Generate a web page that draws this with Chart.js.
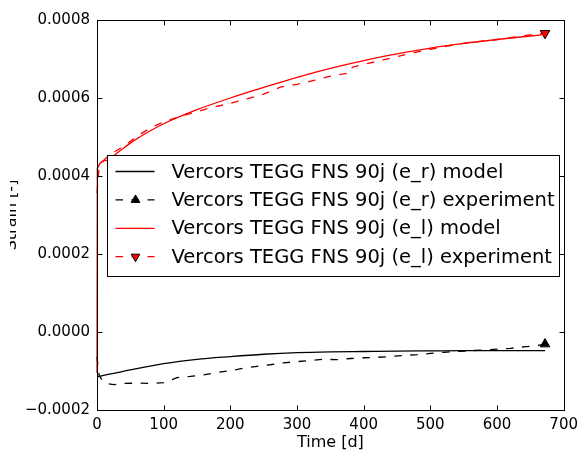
<!DOCTYPE html>
<html>
<head>
<meta charset="utf-8">
<script src="https://cdn.jsdelivr.net/npm/chart.js@4.4.1/dist/chart.umd.min.js"></script>
<style>
  html, body { margin: 0; padding: 0; background: #fff; }
</style>
</head>
<body>
<canvas id="myChart" width="584" height="455"></canvas>
<script>
// ticks
const xTicks = [0, 100, 200, 300, 400, 500, 600, 700];
const yTicks = [-0.0002, 0, 0.0002, 0.0004, 0.0006, 0.0008];

// e_r model
const tModelR = [0, 50, 100, 150, 200, 250, 300, 350, 400, 450, 500, 550, 600, 650, 672];
const strainModelR = [-0.000115, -0.000097, -0.000081, -0.00007, -0.000063, -0.000057, -0.000053, -0.000051,
  -0.00005, -0.000049, -0.0000485, -0.000048, -0.000048, -0.000048, -0.000048];

// e_r experiment
const tExpR = [0, 3, 8, 15, 25, 40, 60, 80, 100, 110, 120, 140, 160, 180, 200, 220, 240, 260, 280, 300,
  320, 340, 360, 380, 400, 420, 440, 460, 480, 500, 520, 540, 560, 580, 600, 620, 640, 660, 672];
const strainExpR = [-0.000064, -0.00011, -0.000125, -0.000132, -0.000135, -0.000132, -0.000131, -0.000132,
  -0.00013, -0.000124, -0.000117, -0.000114, -0.00011, -0.000104, -0.000099, -0.000093, -0.000088,
  -0.000084, -0.000079, -0.000076, -0.000073, -0.00007, -0.000071, -0.000068, -0.000066, -0.000065,
  -0.000063, -0.00006, -0.000058, -0.000055, -0.000052, -0.00005, -0.000048, -0.000046, -0.000044,
  -0.000042, -0.000038, -0.000035, -0.000031];

// e_l model
const tModelL = [0, 0.5, 15, 30, 55, 80, 100, 150, 200, 250, 300, 350, 400, 450, 500, 550, 600, 650, 672];
const strainModelL = [-0.000105, 0.00042, 0.00044, 0.000459, 0.00049, 0.000516, 0.000534, 0.00057, 0.0006,
  0.000627, 0.000653, 0.000676, 0.000696, 0.000713, 0.000728, 0.00074, 0.00075, 0.000759, 0.000763];

// e_l experiment
const tExpL = [0, 3, 10, 20, 40, 60, 80, 100, 125, 150, 175, 200, 225, 250, 275, 300, 325, 350, 380, 383,
  400, 425, 450, 475, 500, 525, 550, 575, 600, 625, 650, 672];
const strainExpL = [0.000356, 0.00042, 0.00044, 0.000456, 0.000476, 0.000502, 0.000523, 0.000539, 0.000553,
  0.000565, 0.000577, 0.000586, 0.000598, 0.00061, 0.000628, 0.000635, 0.000645, 0.000656, 0.000665,
  0.000679, 0.000686, 0.000696, 0.000706, 0.000716, 0.000725, 0.000733, 0.00074, 0.000745, 0.00075,
  0.000756, 0.000762, 0.000766];

const labels = [
  'Vercors TEGG FNS 90j (e_r) model',
  'Vercors TEGG FNS 90j (e_r) experiment',
  'Vercors TEGG FNS 90j (e_l) model',
  'Vercors TEGG FNS 90j (e_l) experiment'
];

const FONT = "'DejaVu Sans', sans-serif";
const DASH = [7.5, 8.5];

function toPoints(ts, vs) {
  return ts.map((t, i) => ({ x: t, y: vs[i] }));
}

// solo el ultimo punto lleva marcador
function lastOnly(n, r) {
  const arr = new Array(n).fill(0);
  arr[n - 1] = r;
  return arr;
}

function fmtY(v) {
  const r = Math.round(v * 1e4) / 1e4;
  if (r < 0) return '\u2212' + Math.abs(r).toFixed(4);
  return Math.abs(r).toFixed(4);
}

function triangle(ctx, x, y, r, down) {
  const s = down ? -1 : 1;
  ctx.beginPath();
  ctx.moveTo(x, y - s * r);
  ctx.lineTo(x + r * 0.866, y + s * r * 0.5);
  ctx.lineTo(x - r * 0.866, y + s * r * 0.5);
  ctx.closePath();
  ctx.fill();
  ctx.stroke();
}

// marco, ticks hacia dentro y leyenda dentro del area
const framePlugin = {
  id: 'framePlugin',
  afterDraw(chart) {
    const { ctx, chartArea: a, scales: { x, y } } = chart;
    ctx.save();
    ctx.strokeStyle = '#000';
    ctx.lineWidth = 1;
    const L = Math.round(a.left) + 0.5, R = Math.round(a.right) + 0.5;
    const T = Math.round(a.top) + 0.5, B = Math.round(a.bottom) + 0.5;
    ctx.strokeRect(L, T, R - L, B - T);
    ctx.beginPath();
    xTicks.forEach(v => {
      const px = Math.round(x.getPixelForValue(v)) + 0.5;
      ctx.moveTo(px, B); ctx.lineTo(px, B - 5);
      ctx.moveTo(px, T); ctx.lineTo(px, T + 5);
    });
    yTicks.forEach(v => {
      const py = Math.round(y.getPixelForValue(v)) + 0.5;
      ctx.moveTo(L, py); ctx.lineTo(L + 5, py);
      ctx.moveTo(R, py); ctx.lineTo(R - 5, py);
    });
    ctx.stroke();

    // leyenda
    ctx.font = '19.5px ' + FONT;
    const maxW = Math.max(...labels.map(l => ctx.measureText(l).width));
    const bx = Math.round(a.left + 10) + 0.5;
    const by = Math.round(a.top + 135) + 0.5;
    const bw = Math.round(64 + maxW + 5);
    const bh = 121;
    ctx.fillStyle = '#fff';
    ctx.fillRect(bx, by, bw, bh);
    ctx.strokeStyle = '#000';
    ctx.strokeRect(bx, by, bw, bh);
    chart.data.datasets.forEach((ds, i) => {
      const cy = by + 16 + i * 28.4;
      ctx.strokeStyle = ds.borderColor;
      ctx.lineWidth = 1.3;
      ctx.setLineDash(ds.borderDash || []);
      ctx.beginPath();
      ctx.moveTo(bx + 8, cy);
      ctx.lineTo(bx + 47, cy);
      ctx.stroke();
      ctx.setLineDash([]);
      if (ds.legendMarker) {
        ctx.fillStyle = ds.pointBackgroundColor;
        ctx.strokeStyle = ds.pointBorderColor;
        ctx.lineWidth = 1;
        triangle(ctx, bx + 28, cy, 5, ds.legendMarker === 'down');
      }
      ctx.fillStyle = '#000';
      ctx.textBaseline = 'middle';
      ctx.textAlign = 'left';
      ctx.fillText(ds.label, bx + 64, cy + 1);
    });

    // el borde izquierdo de la figura original esta recortado
    ctx.fillStyle = '#fff';
    ctx.fillRect(0, 0, 10, chart.height);
    ctx.restore();
  }
};

const ctx = document.getElementById('myChart').getContext('2d');

new Chart(ctx, {
  type: 'line',
  data: {
    datasets: [
      {
        label: labels[0],
        data: toPoints(tModelR, strainModelR),
        borderColor: '#000',
        borderWidth: 1.3,
        pointRadius: 0,
        cubicInterpolationMode: 'monotone',
        clip: 4
      },
      {
        label: labels[1],
        data: toPoints(tExpR, strainExpR),
        borderColor: '#000',
        borderWidth: 1.3,
        borderDash: DASH,
        pointRadius: lastOnly(tExpR.length, 5.5),
        pointStyle: 'triangle',
        pointBackgroundColor: '#000',
        pointBorderColor: '#000',
        pointBorderWidth: 1,
        legendMarker: 'up',
        tension: 0,
        clip: 8
      },
      {
        label: labels[2],
        data: toPoints(tModelL, strainModelL),
        borderColor: '#ff0000',
        borderWidth: 1.3,
        pointRadius: 0,
        cubicInterpolationMode: 'monotone',
        clip: 4
      },
      {
        label: labels[3],
        data: toPoints(tExpL, strainExpL),
        borderColor: '#ff0000',
        borderWidth: 1.3,
        borderDash: DASH,
        pointRadius: lastOnly(tExpL.length, 5.5),
        pointStyle: 'triangle',
        pointRotation: 180,
        pointBackgroundColor: '#ff0000',
        pointBorderColor: '#000',
        pointBorderWidth: 1,
        legendMarker: 'down',
        tension: 0,
        clip: 8
      }
    ]
  },
  options: {
    responsive: false,
    animation: false,
    layout: { padding: { left: 0, right: 18, top: 20, bottom: 0 } },
    plugins: {
      legend: { display: false },
      tooltip: { enabled: false }
    },
    scales: {
      x: {
        type: 'linear',
        min: 0,
        max: 700,
        afterBuildTicks: s => { s.ticks = xTicks.map(v => ({ value: v })); },
        afterFit: s => { s.height = 45; },
        grid: { display: false, drawTicks: false },
        border: { display: false },
        ticks: { color: '#000', padding: 6, font: { family: FONT, size: 15 } },
        title: {
          display: true,
          text: 'Time [d]',
          color: '#000',
          font: { family: FONT, size: 16 },
          padding: { top: 0, bottom: 3 }
        }
      },
      y: {
        type: 'linear',
        min: -0.0002,
        max: 0.0008,
        afterBuildTicks: s => { s.ticks = yTicks.map(v => ({ value: v })); },
        afterFit: s => { s.width = 97; },
        grid: { display: false, drawTicks: false },
        border: { display: false },
        ticks: { color: '#000', padding: 7, font: { family: FONT, size: 15 }, callback: v => fmtY(v) },
        title: {
          display: true,
          text: 'Strain [-]',
          color: '#000',
          font: { family: FONT, size: 16 },
          padding: { top: 2, bottom: 0 }
        }
      }
    }
  },
  plugins: [framePlugin]
});
</script>
</body>
</html>
